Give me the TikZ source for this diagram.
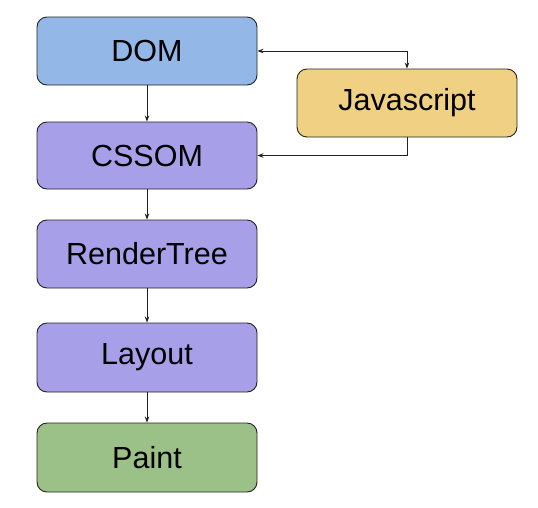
\documentclass[tikz,border=0pt]{standalone}
\usepackage{fontspec}
\setmainfont{Liberation Sans}
\usetikzlibrary{arrows.meta}
\definecolor{domblue}{HTML}{93B7E6}
\definecolor{cssviolet}{HTML}{A79FE8}
\definecolor{jsyellow}{HTML}{F0D184}
\definecolor{paintgreen}{HTML}{9CC188}
\definecolor{edgegray}{HTML}{222222}
\begin{document}
\begin{tikzpicture}[x=1pt,y=-1pt,
  stepbox/.style={draw=edgegray, line width=0.9pt, rounded corners=10pt,
    minimum width=220pt, inner sep=0pt, font=\fontsize{30.5}{36}\selectfont},
  conn/.style={draw=edgegray, line width=0.8pt},
  tip/.style={-{Stealth[length=6pt,width=4.5pt]}}]
\useasboundingbox (0,0) rectangle (538,507);
\node[stepbox, fill=domblue, minimum height=68pt] (dom) at (147,51) {DOM};
\node[stepbox, fill=cssviolet, minimum height=67pt] (cssom) at (147,155.5) {CSSOM};
\node[stepbox, fill=cssviolet, minimum height=68pt] (render) at (147,254) {RenderTree};
\node[stepbox, fill=cssviolet, minimum height=69pt] (layout) at (147,357.5) {Layout};
\node[stepbox, fill=paintgreen, minimum height=69pt] (paint) at (147,457.5) {Paint};
\node[stepbox, fill=jsyellow, minimum height=68pt] (js) at (407,103) {Javascript};
\draw[conn, tip] (dom) -- (cssom);
\draw[conn, tip] (cssom) -- (render);
\draw[conn, tip] (render) -- (layout);
\draw[conn, tip] (layout) -- (paint);
\draw[conn, {Stealth[length=6pt,width=4.5pt]}-{Stealth[length=6pt,width=4.5pt]}] (dom.east) -| (js.north);
\draw[conn, tip] (js.south) |- (cssom.east);
\end{tikzpicture}
\end{document}
